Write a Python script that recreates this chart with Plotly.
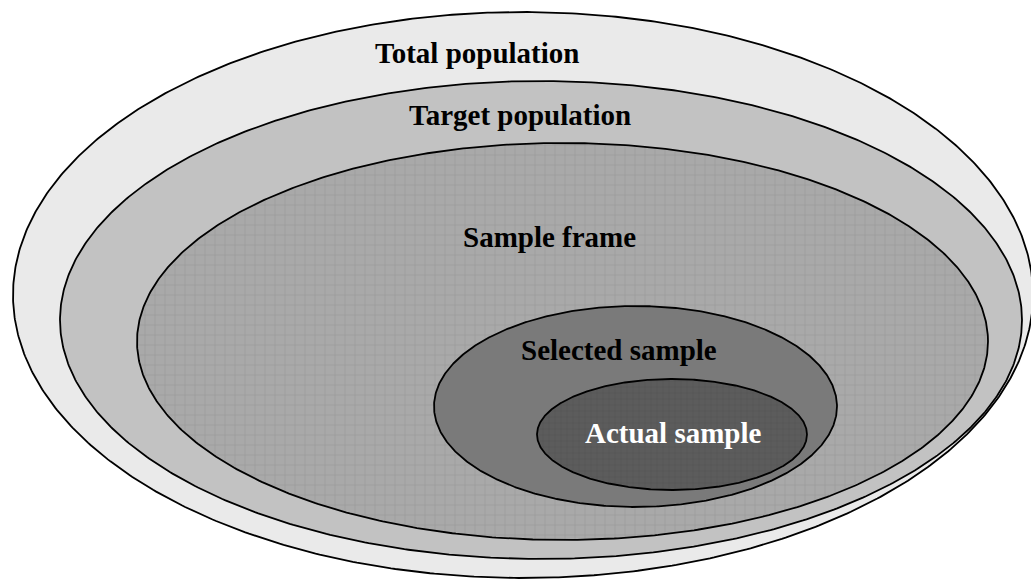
import numpy as np
import plotly.graph_objects as go

# Nested ellipses (outer to inner), in pixel coordinates of the 1031x582 canvas
labels = ["Total population", "Target population", "Sample frame",
          "Selected sample", "Actual sample"]
cx = [523, 541, 562.5, 635.5, 672]
cy = [295, 320, 341.5, 406.5, 434.5]
rx = [510, 481, 425.5, 201.5, 135]
ry = [283, 239, 198.5, 100.5, 55.5]
fills = ["#eaeaea", "#c2c2c2", "#a9a9a9", "#7a7a7a", "#5c5c5c"]
pattern_fg = [None, None, "#989898", None, "#4e4e4e"]
pattern_size = [None, None, 10, None, 6]
label_x = [477, 520, 549, 618.5, 673.5]
label_y = [53, 115, 237, 350, 433]
label_color = ["#000000", "#000000", "#000000", "#000000", "#ffffff"]

W, H = 1031, 582
t = np.linspace(0, 2 * np.pi, 721)

fig = go.Figure()
for i in range(len(labels)):
    xs = cx[i] + rx[i] * np.cos(t)
    ys = cy[i] + ry[i] * np.sin(t)
    kw = {}
    if pattern_fg[i] is not None:
        kw["fillpattern"] = dict(shape="+", fgcolor=pattern_fg[i], bgcolor=fills[i],
                                 size=pattern_size[i], solidity=0.12, fillmode="replace")
    fig.add_trace(go.Scatter(x=xs, y=ys, mode="lines", fill="toself",
                             fillcolor=fills[i], line=dict(color="black", width=1.8),
                             hoverinfo="skip", showlegend=False, **kw))

for i in range(len(labels)):
    fig.add_annotation(x=label_x[i], y=label_y[i], text="<b>%s</b>" % labels[i],
                       showarrow=False, xanchor="center", yanchor="middle",
                       font=dict(family="Liberation Serif, Times New Roman, serif",
                                 size=29, color=label_color[i]))

fig.update_layout(width=W, height=H, margin=dict(l=0, r=0, t=0, b=0),
                  paper_bgcolor="white", plot_bgcolor="white",
                  xaxis=dict(range=[0, W], visible=False, fixedrange=True),
                  yaxis=dict(range=[H, 0], visible=False, fixedrange=True))

fig.write_html("out.html", config={"displayModeBar": False},
               post_script="document.body.style.margin='0';document.body.style.overflow='hidden';")
